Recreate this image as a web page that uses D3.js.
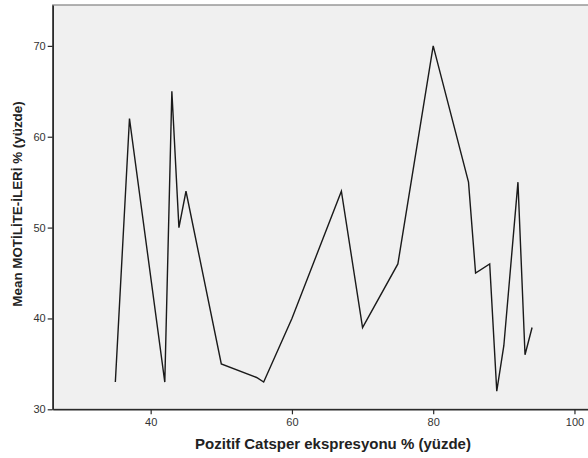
<!DOCTYPE html>
<html>
<head>
<meta charset="utf-8">
<script src="https://cdn.jsdelivr.net/npm/d3@7"></script>
<style>
  body { margin: 0; background: #fff; }
  svg { display: block; }
</style>
</head>
<body>
<div id="chart"></div>
<script>
// Values
var catsper = [35, 37, 42, 43, 44, 45, 50, 55, 56, 60, 67, 70, 75, 80, 85, 86, 88, 89, 90, 92, 93, 94];
var motilite = [33, 62, 33, 65, 50, 54, 35, 33.5, 33, 40, 54, 39, 46, 70, 55, 45, 46, 32, 37, 55, 36, 39];
var xTicks = [40, 60, 80, 100];
var yTicks = [30, 40, 50, 60, 70];

function drawChart() {
  var W = 588, H = 458;
  var plotLeft = 52.7, plotTop = 5, plotBottom = 409.3, plotRight = 590;

  var data = catsper.map(function(d, i) { return { x: d, y: motilite[i] }; });

  var x = d3.scaleLinear().domain([26.13, 102.2]).range([plotLeft, plotRight]);
  var y = d3.scaleLinear().domain([30, 74.5]).range([plotBottom, plotTop]);

  var svg = d3.select("#chart").append("svg")
      .attr("width", W)
      .attr("height", H);

  // plot background
  svg.append("rect")
      .attr("x", plotLeft)
      .attr("y", plotTop)
      .attr("width", plotRight - plotLeft)
      .attr("height", plotBottom - plotTop)
      .attr("fill", "#f0f0f0")
      .attr("stroke", "#808080")
      .attr("stroke-width", 1.2);

  // line
  var line = d3.line()
      .x(function(d) { return x(d.x); })
      .y(function(d) { return y(d.y); });

  svg.append("path")
      .datum(data)
      .attr("d", line)
      .attr("fill", "none")
      .attr("stroke", "#1a1a1a")
      .attr("stroke-width", 1.4)
      .attr("stroke-linejoin", "miter");

  // X axis
  var gx = svg.append("g")
      .attr("transform", "translate(0," + plotBottom + ")")
      .call(d3.axisBottom(x).tickValues(xTicks).tickSize(5).tickPadding(4).tickSizeOuter(0));

  // Y axis
  var gy = svg.append("g")
      .attr("transform", "translate(" + plotLeft + ",0)")
      .call(d3.axisLeft(y).tickValues(yTicks).tickSize(5).tickPadding(2).tickSizeOuter(0));

  [gx, gy].forEach(function(g) {
    g.select(".domain").attr("stroke", "#2a2a2a").attr("stroke-width", 1.6);
    g.selectAll(".tick line").attr("stroke", "#2a2a2a").attr("stroke-width", 1.2);
    g.selectAll(".tick text")
        .style("font-family", "Arial, 'Liberation Sans', sans-serif")
        .style("font-size", "11px")
        .style("fill", "#333");
  });

  // Y axis label
  svg.append("text")
      .attr("text-anchor", "middle")
      .attr("transform", "translate(22,204) rotate(-90)")
      .text("Mean MOTİLİTE-İLERİ % (yüzde)")
      .style("font-family", "Arial, 'Liberation Sans', sans-serif")
      .style("font-size", "13.4px")
      .style("font-weight", "bold")
      .style("fill", "#222");

  // X axis label
  svg.append("text")
      .attr("text-anchor", "middle")
      .attr("x", 333)
      .attr("y", 449)
      .text("Pozitif Catsper ekspresyonu % (yüzde)")
      .style("font-family", "Arial, 'Liberation Sans', sans-serif")
      .style("font-size", "15px")
      .style("font-weight", "bold")
      .style("fill", "#222");
}
drawChart();
</script>
</body>
</html>
